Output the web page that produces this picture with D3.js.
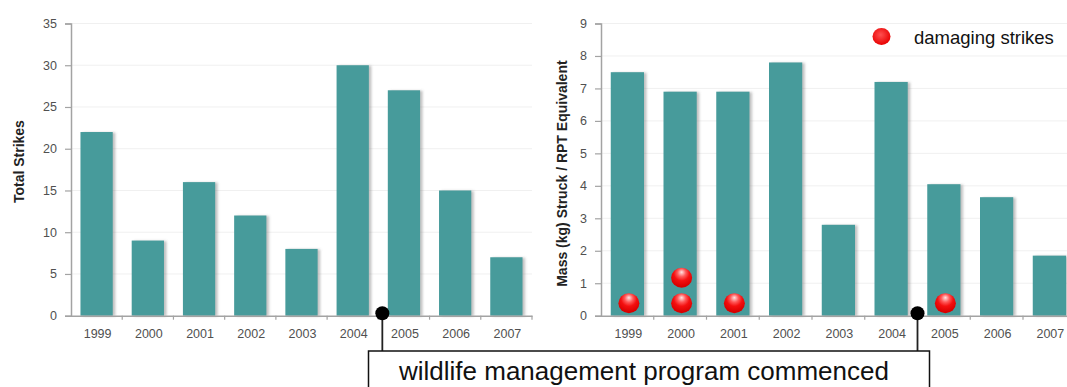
<!DOCTYPE html>
<html>
<head>
<meta charset="utf-8">
<script src="https://cdn.jsdelivr.net/npm/d3@7"></script>
<style>
  html, body { margin: 0; padding: 0; background: #fff; }
  svg { display: block; font-family: "Liberation Sans", Arial, sans-serif; }
  .tick text { fill: #505050; font-size: 12.5px; }
</style>
</head>
<body>
<svg id="chart" width="1067" height="387"></svg>
<script>
// Bird strike data by year
const years = ["1999", "2000", "2001", "2002", "2003", "2004", "2005", "2006", "2007"];
const totalStrikes = [22, 9, 16, 12, 8, 30, 27, 15, 7];
const massStruck = [7.5, 6.9, 6.9, 7.8, 2.8, 7.2, 4.05, 3.65, 1.85];
const damagingStrikes = [1, 2, 1, 0, 0, 0, 1, 0, 0];
const strikeTicks = [0, 5, 10, 15, 20, 25, 30, 35];
const massTicks = [0, 1, 2, 3, 4, 5, 6, 7, 8, 9];
const programStartYear = "2005";

const svg = d3.select("#chart");
const defs = svg.append("defs");

// soft shadow under the bars
const shadow = defs.append("filter").attr("id", "barShadow")
  .attr("x", "-20%").attr("y", "-5%").attr("width", "140%").attr("height", "110%");
shadow.append("feDropShadow")
  .attr("dx", 2.5).attr("dy", 0.5).attr("stdDeviation", 1.2)
  .attr("flood-color", "#777").attr("flood-opacity", 0.45);

// glossy red ball
const gloss = defs.append("radialGradient").attr("id", "redBall")
  .attr("cx", "50%").attr("cy", "32%").attr("r", "62%")
  .attr("fx", "50%").attr("fy", "22%");
gloss.append("stop").attr("offset", "0%").attr("stop-color", "#ffe4e4");
gloss.append("stop").attr("offset", "32%").attr("stop-color", "#ff5a5a");
gloss.append("stop").attr("offset", "60%").attr("stop-color", "#f41010");
gloss.append("stop").attr("offset", "100%").attr("stop-color", "#d80000");

const legendBall = defs.append("radialGradient").attr("id", "legendBall")
  .attr("cx", "45%").attr("cy", "40%").attr("r", "60%");
legendBall.append("stop").attr("offset", "0%").attr("stop-color", "#ff5050");
legendBall.append("stop").attr("offset", "100%").attr("stop-color", "#e80000");

const barColor = "#469b9b";
const axisColor = "#a3a3a3";
const gridColor = "#f0f0f0";
const baseY = 315.7, topY = 23.5;

function panel(opts) {
  const g = svg.append("g");
  const x = d3.scaleBand().domain(years).range(opts.xRange)
    .paddingInner(0.37).paddingOuter(0.185);
  const y = d3.scaleLinear().domain(opts.yDomain).range([baseY, topY]);
  const step = x.step();
  const boundary = d => x(d) - step * x.paddingInner() / 2;

  // gridlines
  g.append("g").selectAll("line").data(opts.ticks.filter(t => t > 0)).join("line")
    .attr("x1", opts.xRange[0]).attr("x2", opts.xRange[1])
    .attr("y1", d => y(d)).attr("y2", d => y(d))
    .attr("stroke", gridColor).attr("stroke-width", 1);

  // bars
  g.append("g").selectAll("rect").data(opts.values).join("rect")
    .attr("x", (d, i) => x(years[i]))
    .attr("y", d => y(d))
    .attr("width", x.bandwidth())
    .attr("height", d => y(0) - y(d))
    .attr("fill", barColor)
    .attr("filter", "url(#barShadow)");

  // y axis
  const yAxis = g.append("g").attr("transform", `translate(${opts.xRange[0]},0)`)
    .call(d3.axisLeft(y).tickValues(opts.ticks).tickSize(6).tickPadding(8));
  yAxis.select(".domain").attr("stroke", axisColor).attr("stroke-width", 1.5);
  yAxis.selectAll(".tick line").attr("stroke", axisColor).attr("stroke-width", 1.2);

  // x axis: labels centred in the bands, ticks on the band boundaries
  const xAxis = g.append("g").attr("transform", `translate(0,${baseY})`)
    .call(d3.axisBottom(x).tickSize(0).tickPadding(13.5));
  xAxis.select(".domain").attr("stroke", axisColor).attr("stroke-width", 1.5);
  xAxis.selectAll(".tick text").attr("dx", 1);
  g.append("g").selectAll("line").data(years.slice(1).map(boundary).concat([opts.xRange[1]]))
    .join("line")
    .attr("x1", d => d).attr("x2", d => d)
    .attr("y1", baseY).attr("y2", baseY + 4)
    .attr("stroke", axisColor).attr("stroke-width", 1.2);

  // axis title
  g.append("text")
    .attr("transform", `translate(${opts.titleX},${(baseY + topY) / 2 + opts.titleDy}) rotate(-90)`)
    .attr("text-anchor", "middle")
    .attr("font-size", 14).attr("font-weight", "bold").attr("fill", "#222")
    .text(opts.title);

  return { x, y, g, boundary };
}

const left = panel({
  xRange: [71, 532], yDomain: [0, 35], ticks: strikeTicks,
  values: totalStrikes, title: "Total Strikes", titleX: 23.5, titleDy: -8
});

const right = panel({
  xRange: [601, 601 + 9 * 52.75], yDomain: [0, 9], ticks: massTicks,
  values: massStruck, title: "Mass (kg) Struck / RPT Equivalent", titleX: 567, titleDy: 4
});

// damaging strikes stacked as balls at the base of each mass bar
const balls = [];
damagingStrikes.forEach((n, i) => {
  for (let k = 0; k < n; k++) balls.push({ year: years[i], k });
});
right.g.append("g").selectAll("ellipse").data(balls).join("ellipse")
  .attr("cx", d => right.x(d.year) + right.x.bandwidth() / 2 + 1.5)
  .attr("cy", d => right.y(0) - 12.5 - d.k * 25.5)
  .attr("rx", 10.5).attr("ry", 10)
  .attr("fill", "url(#redBall)");

// legend
const legend = svg.append("g");
legend.append("ellipse").attr("cx", 881.5).attr("cy", 36.5).attr("rx", 9).attr("ry", 8.5)
  .attr("fill", "url(#legendBall)");
legend.append("text").attr("x", 914).attr("y", 43.5)
  .attr("font-size", 18.5).attr("fill", "#111").text("damaging strikes");

// programme start markers on both panels
const markerXs = [left.boundary(programStartYear) + 4, right.boundary(programStartYear)];
const boxTop = 351;
const markers = svg.append("g");
markers.selectAll("line").data(markerXs).join("line")
  .attr("x1", d => d).attr("x2", d => d)
  .attr("y1", baseY - 2.5).attr("y2", boxTop)
  .attr("stroke", "#222").attr("stroke-width", 1.8);
markers.selectAll("circle").data(markerXs).join("circle")
  .attr("cx", d => d).attr("cy", baseY - 2.5).attr("r", 7)
  .attr("fill", "#000");

// annotation box
svg.append("rect")
  .attr("x", 368.5).attr("y", boxTop).attr("width", 561).attr("height", 60)
  .attr("fill", "#fff").attr("stroke", "#111").attr("stroke-width", 1.5);
svg.append("text")
  .attr("x", 399).attr("y", 380)
  .attr("font-size", 26).attr("fill", "#111")
  .text("wildlife management program commenced");
</script>
</body>
</html>
